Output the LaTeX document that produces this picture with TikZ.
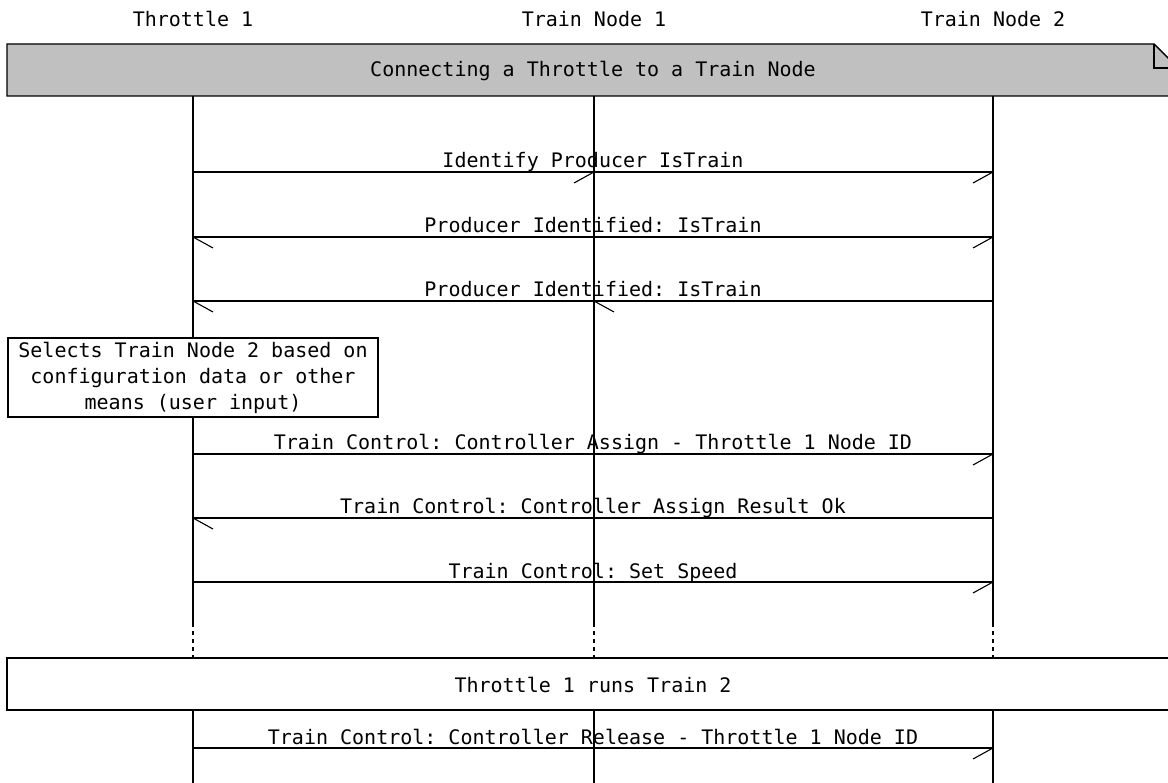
\documentclass[tikz,border=0pt]{standalone}
\usepackage{fontspec}
\setmonofont{DejaVu Sans Mono}
\definecolor{notegrey}{RGB}{192,192,192}
\tikzset{
  every picture/.style={x=1pt,y=-1pt},
  lbl/.style={font=\ttfamily\fontsize{20}{26}\selectfont,inner sep=0pt,anchor=base},
  life/.style={line width=1.2pt},
  lifedot/.style={line width=1.2pt,dash pattern=on 4pt off 4pt},
  msg/.style={line width=1.2pt},
  boxline/.style={line width=1.4pt},
  rtick/.pic={\draw[line width=1.1pt] (0,0) -- (-20,11);},
  ltick/.pic={\draw[line width=1.1pt] (0,0) -- (20,11);}
}
\begin{document}
\begin{tikzpicture}
\useasboundingbox[fill=white] (0,0) rectangle (1168,783);
% headers
\node[lbl] (h1) at (193,27) {Throttle 1};
\node[lbl] (h2) at (594,27) {Train Node 1};
\node[lbl] (h3) at (993,27) {Train Node 2};
% lifeline coordinates
\foreach \n/\x in {a/193,b/594,c/993}{
  \coordinate (\n-top) at (\x,96);
  \coordinate (\n-m1) at (\x,172);
  \coordinate (\n-m2) at (\x,237);
  \coordinate (\n-m3) at (\x,301);
  \coordinate (\n-m5) at (\x,454);
  \coordinate (\n-m6) at (\x,518);
  \coordinate (\n-m7) at (\x,582);
  \coordinate (\n-sol) at (\x,623);
  \coordinate (\n-dot) at (\x,658);
  \coordinate (\n-low) at (\x,710);
  \coordinate (\n-m8) at (\x,748);
  \coordinate (\n-end) at (\x,783);
  \draw[life] (\n-top) -- (\n-sol);
  \draw[lifedot] (\n-sol) -- (\n-dot);
  \draw[life] (\n-low) -- (\n-end);
}
% title note (grey)
\draw[boxline,fill=notegrey] (7,44) -- (1154,44) -- (1178,68) -- (1178,96) -- (7,96) -- cycle;
\draw[boxline] (1154,44) -- (1154,68) -- (1178,68);
\node[lbl] (title) at (593,77) {Connecting a Throttle to a Train Node};
% messages
\draw[msg] (a-m1) -- (c-m1);
\pic at (b-m1) {rtick};
\pic at (c-m1) {rtick};
\node[lbl] (l1) at (593,168) {Identify Producer IsTrain};

\draw[msg] (c-m2) -- (a-m2);
\pic at (a-m2) {ltick};
\pic at (c-m2) {rtick};
\node[lbl] (l2) at (593,233) {Producer Identified: IsTrain};

\draw[msg] (c-m3) -- (a-m3);
\pic at (a-m3) {ltick};
\pic at (b-m3) {ltick};
\node[lbl] (l3) at (593,297) {Producer Identified: IsTrain};

% selection box
\node[draw,boxline,fill=white,minimum width=370pt,minimum height=79pt,inner sep=0pt,
      align=center,font=\ttfamily\fontsize{20}{26}\selectfont] (sel) at (193,377.5)
  {Selects Train Node 2 based on\\configuration data or other\\means (user input)};

\draw[msg] (a-m5) -- (c-m5);
\pic at (c-m5) {rtick};
\node[lbl] (l5) at (593,450) {Train Control: Controller Assign - Throttle 1 Node ID};

\draw[msg] (c-m6) -- (a-m6);
\pic at (a-m6) {ltick};
\node[lbl] (l6) at (593,514) {Train Control: Controller Assign Result Ok};

\draw[msg] (a-m7) -- (c-m7);
\pic at (c-m7) {rtick};
\node[lbl] (l7) at (593,578) {Train Control: Set Speed};

% runs box
\draw[boxline,fill=white] (7,658) rectangle (1180,710);
\node[lbl] (runs) at (593,692) {Throttle 1 runs Train 2};

\draw[msg] (a-m8) -- (c-m8);
\pic at (c-m8) {rtick};
\node[lbl] (l8) at (593,744) {Train Control: Controller Release - Throttle 1 Node ID};
\end{tikzpicture}
\end{document}
